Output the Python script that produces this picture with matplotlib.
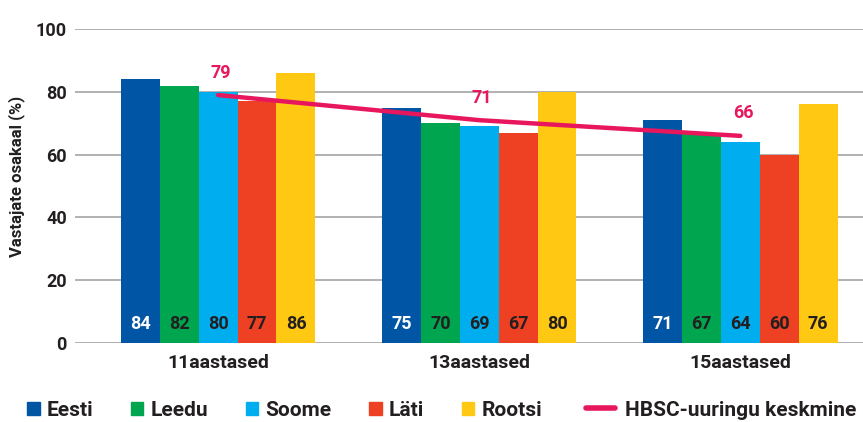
import numpy as np
import matplotlib.pyplot as plt
from matplotlib.patches import Patch
from matplotlib.lines import Line2D

plt.rcParams['font.family'] = ['Roboto', 'DejaVu Sans']
plt.rcParams['font.weight'] = 'bold'

# Andmed
vanused = ['11aastased', '13aastased', '15aastased']
riigid = ['Eesti', 'Leedu', 'Soome', 'Läti', 'Rootsi']
eesti = [84, 75, 71]
leedu = [82, 70, 67]
soome = [80, 69, 64]
lati = [77, 67, 60]
rootsi = [86, 80, 76]
hbsc = [79, 71, 66]

varvid = ['#0055A5', '#00A54F', '#00AEEF', '#EE4023', '#FFC813']
roosa = '#E8175D'
tekst = '#231F20'

fig = plt.figure(figsize=(8.63, 4.22), dpi=100)
ax = fig.add_axes([0.087, 0.187, 0.913, 0.744])

x = np.arange(len(vanused))
w = 0.149
for i, (nimi, vals) in enumerate(zip(riigid, [eesti, leedu, soome, lati, rootsi])):
    pos = x + (i - 2) * w
    ax.bar(pos, vals, w, color=varvid[i], zorder=3)
    for p, v in zip(pos, vals):
        c = 'white' if i == 0 else tekst
        ax.text(p, 3.2, str(v), ha='center', va='bottom', color=c,
                fontsize=13, fontweight='bold', zorder=4)

# HBSC keskmine joon
ax.plot(x, hbsc, color=roosa, lw=3.2, solid_capstyle='round', zorder=5)
for xi, v in zip(x, hbsc):
    ax.text(xi + 0.01, v + 4.3, str(v), ha='center', va='bottom', color=roosa,
            fontsize=13, fontweight='bold')

ax.set_ylim(0, 100)
ax.set_xlim(-0.548, 2.47)
ax.set_yticks(range(0, 101, 20))
ax.set_xticks(x)
ax.set_xticklabels(vanused)
ax.tick_params(axis='y', length=0, labelsize=13, pad=6, colors=tekst)
ax.tick_params(axis='x', length=0, labelsize=14, pad=8, colors=tekst)
ax.yaxis.grid(True, color='#9D9D9D', lw=1.1, zorder=0)
for s in ax.spines.values():
    s.set_visible(False)
ax.set_ylabel('Vastajate osakaal (%)', fontsize=12, fontweight='bold', color=tekst)
ax.yaxis.set_label_coords(-0.063, 0.53)

# Legend
ruudud = [Patch(color=c) for c in varvid]
leg1 = fig.legend(ruudud, riigid, loc='center left', bbox_to_anchor=(27 / 863, 0.028),
                  ncol=5, frameon=False, fontsize=15, handlelength=0.6, handleheight=0.6,
                  handletextpad=0.33, columnspacing=1.82, borderpad=0, borderaxespad=0,
                  labelcolor=tekst)
joon = [Line2D([], [], color=roosa, lw=4, solid_capstyle='round')]
leg2 = fig.legend(joon, ['HBSC-uuringu keskmine'], loc='center left',
                  bbox_to_anchor=(586 / 863, 0.028), frameon=False, fontsize=15,
                  handlelength=1.4, handletextpad=0.45, borderpad=0, borderaxespad=0,
                  labelcolor=tekst)

plt.savefig('out.png')
